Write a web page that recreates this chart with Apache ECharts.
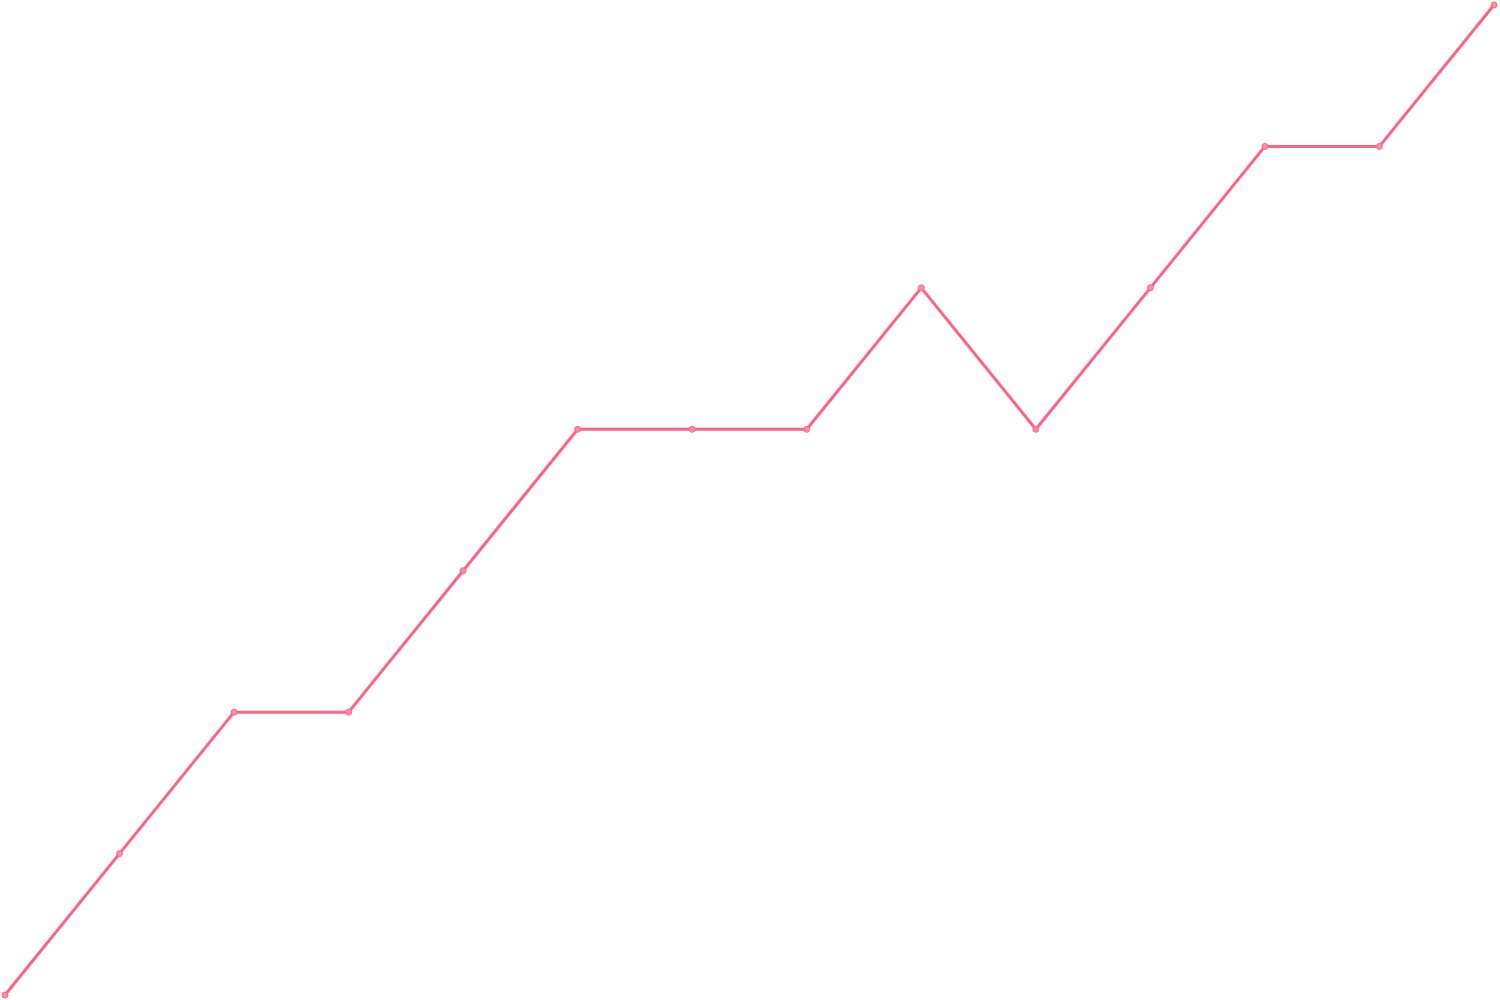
<!DOCTYPE html>
<html><head><meta charset="utf-8">
<script src="https://cdn.jsdelivr.net/npm/echarts@6/dist/echarts.min.js"></script>
<style>html,body{margin:0;padding:0;background:#fff}#c{width:1500px;height:1000px}</style>
</head><body><div id="c"></div>
<script>
const categories = ['1','2','3','4','5','6','7','8','9','10','11','12','13','14'];
const values = [0,1,2,2,3,4,4,4,5,4,5,6,6,7];
const chart = echarts.init(document.getElementById('c'));
chart.setOption({
  animation: false,
  grid: {left: 5, right: 6, top: 5, bottom: 5, containLabel: false},
  xAxis: {type: 'category', data: categories, boundaryGap: false, show: false},
  yAxis: {type: 'value', min: 0, max: 7, show: false},
  series: [{
    type: 'line', data: values,
    symbol: 'circle', symbolSize: 6,
    lineStyle: {color: '#ff6384', width: 3},
    itemStyle: {color: '#ff8fa6', borderColor: '#ff6384', borderWidth: 1}
  }]
});
</script></body></html>
